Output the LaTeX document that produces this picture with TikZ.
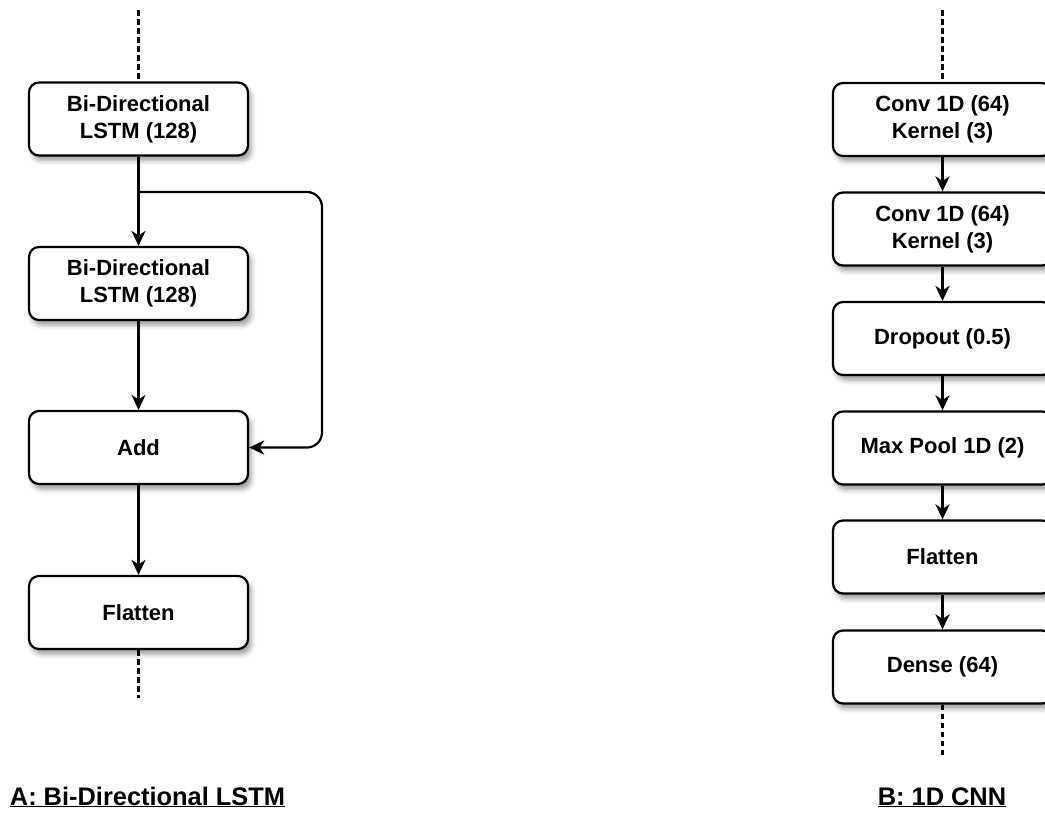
\documentclass[tikz,border=0pt]{standalone}
\usepackage{fontspec}
\setmainfont{Liberation Sans}
\usetikzlibrary{arrows.meta,shadows.blur}
\tikzset{
  layer/.style={draw=black, line width=2.2pt, fill=white, rounded corners=10pt,
    minimum width=219pt, minimum height=73pt, align=center, inner sep=0pt,
    font=\fontsize{22pt}{27pt}\selectfont\bfseries,
    blur shadow={shadow xshift=3pt, shadow yshift=-5pt, shadow blur radius=5pt, shadow opacity=40}},
  conn/.style={line width=2.2pt, -{Stealth[length=15pt,width=14pt,inset=4.5pt]}},
  cont/.style={line width=2.2pt, dash pattern=on 5.5pt off 3.5pt},
  caption/.style={anchor=base, font=\fontsize{25.4pt}{30pt}\selectfont\bfseries, inner sep=0pt}
}
\begin{document}
\begin{tikzpicture}[x=1pt,y=-1pt]
  \useasboundingbox (0,0) rectangle (1045,812);
  \clip (0,0) rectangle (1045,812);

  % --- left stack: bidirectional LSTM with residual add ---
  \node[layer] (b1) at (138.5,119) {Bi-Directional\\LSTM (128)};
  \node[layer] (b2) at (138.5,283.5) {Bi-Directional\\LSTM (128)};
  \node[layer] (add) at (138.5,447.5) {Add};
  \node[layer] (flat) at (138.5,612.5) {Flatten};

  \coordinate (inA) at (138.5,10);
  \coordinate (outA) at (138.5,698);
  \coordinate (split) at (138.5,192);
  \coordinate (skipR) at (322,192);

  \draw[cont] (inA) -- (b1.north);
  \draw[conn] (b1) -- (b2);
  \draw[conn] (b2) -- (add);
  \draw[conn] (add) -- (flat);
  \draw[cont] (flat.south) -- (outA);
  \draw[conn, rounded corners=15pt] (split) -- (skipR) |- (add.east);

  % --- right stack: 1D CNN ---
  \node[layer] (c1) at (942.5,119.5) {Conv 1D (64)\\Kernel (3)};
  \node[layer] (c2) at (942.5,229) {Conv 1D (64)\\Kernel (3)};
  \node[layer] (drop) at (942.5,338.5) {Dropout (0.5)};
  \node[layer] (pool) at (942.5,448) {Max Pool 1D (2)};
  \node[layer] (flat2) at (942.5,557) {Flatten};
  \node[layer] (dense) at (942.5,667) {Dense (64)};

  \coordinate (inB) at (942.5,10);
  \coordinate (outB) at (942.5,758);

  \draw[cont] (inB) -- (c1.north);
  \draw[conn] (c1) -- (c2);
  \draw[conn] (c2) -- (drop);
  \draw[conn] (drop) -- (pool);
  \draw[conn] (pool) -- (flat2);
  \draw[conn] (flat2) -- (dense);
  \draw[cont] (dense.south) -- (outB);

  % --- captions ---
  \node[caption] (capA) at (147.5,805) {\underline{A: Bi-Directional LSTM}};
  \node[caption] (capB) at (942,805) {\underline{B: 1D CNN}};
\end{tikzpicture}
\end{document}
